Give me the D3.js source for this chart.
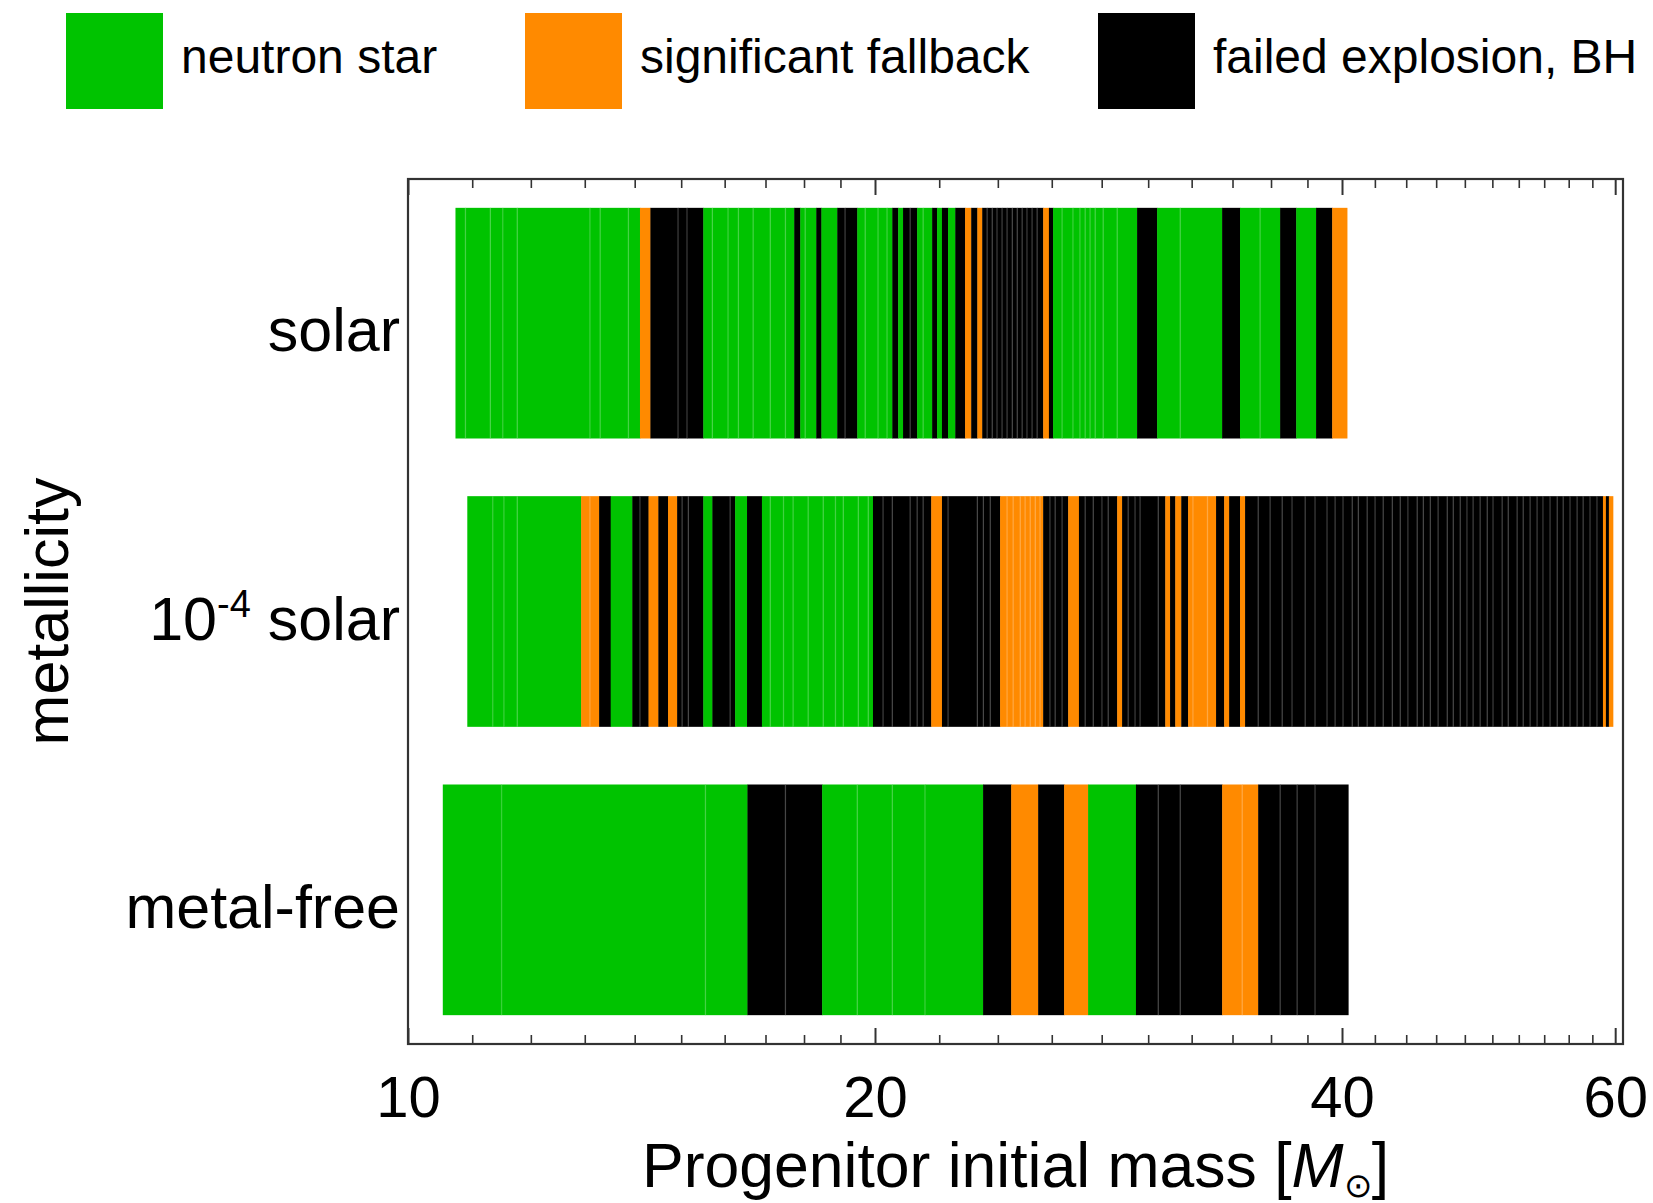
<!DOCTYPE html>
<html>
<head>
<meta charset="utf-8">
<script src="https://cdn.jsdelivr.net/npm/d3@7"></script>
<style>
  html, body { margin: 0; padding: 0; background: #fff; }
  svg { display: block; font-family: "Liberation Sans", Arial, Helvetica, sans-serif; }
</style>
</head>
<body>
<svg id="chart" width="1653" height="1203"></svg>
<script>
// ---- data -------------------------------------------------------------
// Outcome codes: N = neutron star, F = significant fallback, B = failed explosion / BH
const outcomeCodes = ["N", "F", "B"];
const outcomeLabels = ["neutron star", "significant fallback", "failed explosion, BH"];

const categories = ["solar", "10^-4 solar", "metal-free"];

// each model cell: [upper mass edge, outcome]; the lower edge is the previous cell's upper edge
const solarStart = 10.73;
const solarCells = [
  [10.89,"N"],[11.30,"N"],[11.51,"N"],[11.76,"N"],[13.10,"N"],[13.30,"N"],[13.87,"N"],[14.11,"N"],
  [14.33,"F"],
  [14.93,"B"],[15.13,"B"],[15.50,"B"],
  [15.71,"N"],[16.08,"N"],[16.33,"N"],[16.69,"N"],[17.12,"N"],[17.51,"N"],[17.74,"N"],
  [17.90,"B"],
  [18.03,"N"],[18.33,"N"],
  [18.47,"B"],
  [18.91,"N"],
  [19.13,"B"],[19.48,"B"],
  [19.71,"N"],[20.09,"N"],[20.36,"N"],[20.52,"N"],
  [20.70,"B"],
  [20.85,"N"],
  [21.07,"B"],[21.29,"B"],
  [21.48,"N"],[21.77,"N"],
  [21.93,"B"],
  [22.09,"N"],
  [22.29,"B"],
  [22.53,"N"],
  [22.86,"B"],
  [23.07,"F"],
  [23.28,"B"],
  [23.45,"F"],
  [23.62,"B"],[23.80,"B"],[23.97,"B"],[24.15,"B"],[24.33,"B"],[24.52,"B"],[24.70,"B"],[24.88,"B"],
  [25.06,"B"],[25.25,"B"],[25.44,"B"],[25.67,"B"],
  [25.89,"F"],
  [26.05,"B"],
  [26.40,"N"],[26.83,"N"],[27.11,"N"],[27.32,"N"],[27.52,"N"],[27.73,"N"],[28.06,"N"],[28.65,"N"],[29.51,"N"],
  [30.40,"B"],
  [31.46,"N"],[33.48,"N"],
  [34.38,"B"],
  [35.42,"N"],[36.49,"N"],
  [37.37,"B"],
  [38.49,"N"],
  [39.42,"B"],
  [40.30,"F"]
];

const lowZStart = 10.92;
const lowZCells = [
  [11.34,"N"],[11.53,"N"],[11.76,"N"],[12.93,"N"],
  [13.10,"F"],[13.28,"F"],
  [13.51,"B"],
  [13.95,"N"],
  [14.11,"B"],[14.29,"B"],
  [14.50,"F"],
  [14.71,"B"],
  [14.91,"F"],
  [15.02,"B"],[15.16,"B"],[15.50,"B"],
  [15.71,"N"],
  [16.13,"B"],[16.25,"B"],
  [16.54,"N"],
  [16.91,"B"],
  [17.12,"N"],[17.46,"N"],[17.71,"N"],[18.11,"N"],[18.52,"N"],[18.86,"N"],[19.08,"N"],[19.51,"N"],[19.80,"N"],[19.94,"N"],
  [20.24,"B"],[20.52,"B"],[21.07,"B"],[21.29,"B"],[21.48,"B"],[21.74,"B"],
  [22.09,"F"],
  [22.29,"B"],[23.28,"B"],[23.49,"B"],[23.73,"B"],[24.08,"B"],
  [24.33,"F"],[24.55,"F"],[24.81,"F"],[24.99,"F"],[25.18,"F"],[25.37,"F"],[25.55,"F"],[25.67,"F"],
  [25.93,"B"],[26.13,"B"],[26.40,"B"],[26.64,"B"],
  [27.07,"F"],
  [27.32,"B"],[27.65,"B"],[28.01,"B"],[28.27,"B"],[28.65,"B"],
  [28.86,"F"],
  [29.12,"B"],[29.42,"B"],[29.64,"B"],[30.45,"B"],[30.77,"B"],
  [30.99,"F"],
  [31.23,"B"],
  [31.51,"F"],
  [31.83,"B"],
  [32.06,"F"],[32.76,"F"],[33.18,"F"],
  [33.58,"B"],
  [33.83,"F"],
  [34.38,"B"],
  [34.64,"F"],
  [35.32,"B"],[35.95,"B"],[36.60,"B"],[37.14,"B"],[37.87,"B"],[38.43,"B"],[39.12,"B"],[39.59,"B"],
  [40.06,"B"],[40.61,"B"],[40.98,"B"],[41.52,"B"],[42.01,"B"],[42.52,"B"],[43.10,"B"],[43.61,"B"],
  [44.11,"B"],[44.72,"B"],[45.13,"B"],[45.60,"B"],[46.13,"B"],[46.76,"B"],[47.18,"B"],[47.67,"B"],
  [48.15,"B"],[48.59,"B"],[49.10,"B"],[49.62,"B"],[50.05,"B"],[50.73,"B"],[51.19,"B"],[51.87,"B"],
  [52.34,"B"],[52.88,"B"],[53.43,"B"],[53.90,"B"],[54.47,"B"],[55.05,"B"],[55.54,"B"],[56.11,"B"],
  [56.70,"B"],[57.21,"B"],[57.80,"B"],[58.40,"B"],[58.92,"B"],
  [59.18,"F"],
  [59.44,"B"],
  [59.80,"F"]
];

const metalFreeStart = 10.53;
const metalFreeCells = [
  [11.49,"N"],[15.55,"N"],[16.55,"N"],
  [17.51,"B"],[18.49,"B"],
  [19.48,"N"],[20.52,"N"],[21.54,"N"],[23.48,"N"],
  [24.48,"B"],
  [25.48,"F"],
  [26.48,"B"],
  [27.44,"F"],
  [29.46,"N"],
  [30.45,"B"],[31.46,"B"],[33.48,"B"],
  [34.49,"F"],[35.32,"F"],
  [36.49,"B"],[37.42,"B"],[38.43,"B"],[40.37,"B"]
];

const massRange = [10, 60.7];
const majorTicks = [10, 20, 40, 60];
const minorTicks = [11,12,13,14,15,16,17,18,19, 22,24,26,28,30,32,34,36,38, 42,44,46,48,50,52,54,56,58];

// ---- styling ----------------------------------------------------------
const palette = { N: "#00c300", F: "#ff8a00", B: "#000000" };
const frameColor = "#333";

// ---- layout -----------------------------------------------------------
const plot = { left: 408, right: 1623, top: 179, bottom: 1044 };

const svg = d3.select("#chart");

const x = d3.scaleLog().domain(massRange).range([plot.left, plot.right]);
const y = d3.scaleBand().domain(categories)
  .range([plot.top, plot.bottom]).paddingInner(0.2).paddingOuter(0.1);

const rows = [
  { key: categories[0], start: solarStart, cells: solarCells },
  { key: categories[1], start: lowZStart, cells: lowZCells },
  { key: categories[2], start: metalFreeStart, cells: metalFreeCells }
];

function toCells(row) {
  let lo = row.start;
  return row.cells.map(([hi, o], i) => {
    const c = { lo, hi, o, prev: i > 0 ? row.cells[i - 1][1] : null };
    lo = hi;
    return c;
  });
}

// ---- bars -------------------------------------------------------------
const barsG = svg.append("g");
rows.forEach(row => {
  const cells = toCells(row);
  const g = barsG.append("g");
  const y0 = y(row.key), h = y.bandwidth();
  g.selectAll("rect").data(cells).join("rect")
    .attr("x", d => x(d.lo))
    .attr("width", d => x(d.hi) - x(d.lo) + 0.4)
    .attr("y", y0)
    .attr("height", h)
    .attr("fill", d => palette[d.o]);
  // thin light dividers between neighbouring models of the same outcome
  g.selectAll("line").data(cells.filter(d => d.prev === d.o)).join("line")
    .attr("x1", d => x(d.lo)).attr("x2", d => x(d.lo))
    .attr("y1", y0).attr("y2", y0 + h)
    .attr("stroke", "#fff").attr("stroke-opacity", 0.22).attr("stroke-width", 1.3);
});

// ---- frame & ticks ----------------------------------------------------
function styleAxis(g, w) {
  g.select(".domain").remove();
  g.selectAll(".tick line").attr("stroke", frameColor).attr("stroke-width", w);
}

svg.append("g").attr("transform", `translate(0,${plot.bottom})`)
  .call(d3.axisBottom(x).tickValues(minorTicks).tickSizeInner(-9).tickSizeOuter(0).tickFormat(""))
  .call(g => styleAxis(g, 1.6));
svg.append("g").attr("transform", `translate(0,${plot.top})`)
  .call(d3.axisTop(x).tickValues(minorTicks).tickSizeInner(-9).tickSizeOuter(0).tickFormat(""))
  .call(g => styleAxis(g, 1.6));
svg.append("g").attr("transform", `translate(0,${plot.top})`)
  .call(d3.axisTop(x).tickValues(majorTicks).tickSizeInner(-16).tickSizeOuter(0).tickFormat(""))
  .call(g => styleAxis(g, 2));

const xAxis = svg.append("g").attr("transform", `translate(0,${plot.bottom})`)
  .call(d3.axisBottom(x).tickValues(majorTicks).tickSizeInner(-16).tickSizeOuter(0)
    .tickPadding(32).tickFormat(d3.format("d")))
  .call(g => styleAxis(g, 2));
xAxis.selectAll(".tick text")
  .attr("font-size", 58).attr("fill", "#000")
  .attr("font-family", "\"Liberation Sans\", Arial, sans-serif");

svg.append("rect")
  .attr("x", plot.left).attr("y", plot.top)
  .attr("width", plot.right - plot.left).attr("height", plot.bottom - plot.top)
  .attr("fill", "none").attr("stroke", frameColor).attr("stroke-width", 2.2);

// ---- category labels --------------------------------------------------
const labelG = svg.append("g").attr("font-size", 61).attr("fill", "#000");
categories.forEach(cat => {
  const t = labelG.append("text")
    .attr("x", plot.left - 8)
    .attr("y", y(cat) + y.bandwidth() / 2 + 28)
    .attr("text-anchor", "end");
  if (cat === "10^-4 solar") {
    t.append("tspan").text("10");
    t.append("tspan").attr("font-size", 38).attr("dy", -23).text("-4");
    t.append("tspan").attr("dy", 23).text("\u00a0solar");
  } else {
    t.text(cat);
  }
});

// ---- axis titles ------------------------------------------------------
svg.append("text")
  .attr("transform", `translate(68,${(plot.top + plot.bottom) / 2}) rotate(-90)`)
  .attr("text-anchor", "middle").attr("font-size", 61).attr("fill", "#000")
  .text("metallicity");

const xt = svg.append("text")
  .attr("x", (plot.left + plot.right) / 2).attr("y", 1187)
  .attr("text-anchor", "middle").attr("font-size", 62.5).attr("fill", "#000");
xt.append("tspan").text("Progenitor initial mass [");
xt.append("tspan").attr("font-style", "italic").text("M");
xt.append("tspan").attr("font-size", 34).attr("dy", 10).text("\u2299");
xt.append("tspan").attr("dy", -10).text("]");

// ---- legend -----------------------------------------------------------
const legendX = [66, 525, 1098];
const legend = svg.append("g");
outcomeCodes.forEach((code, i) => {
  const g = legend.append("g").attr("transform", `translate(${legendX[i]},13)`);
  g.append("rect").attr("width", 97).attr("height", 96).attr("fill", palette[code]);
  g.append("text").attr("x", 115).attr("y", 60)
    .attr("font-size", 48).attr("fill", "#000").text(outcomeLabels[i]);
});
</script>
</body>
</html>
